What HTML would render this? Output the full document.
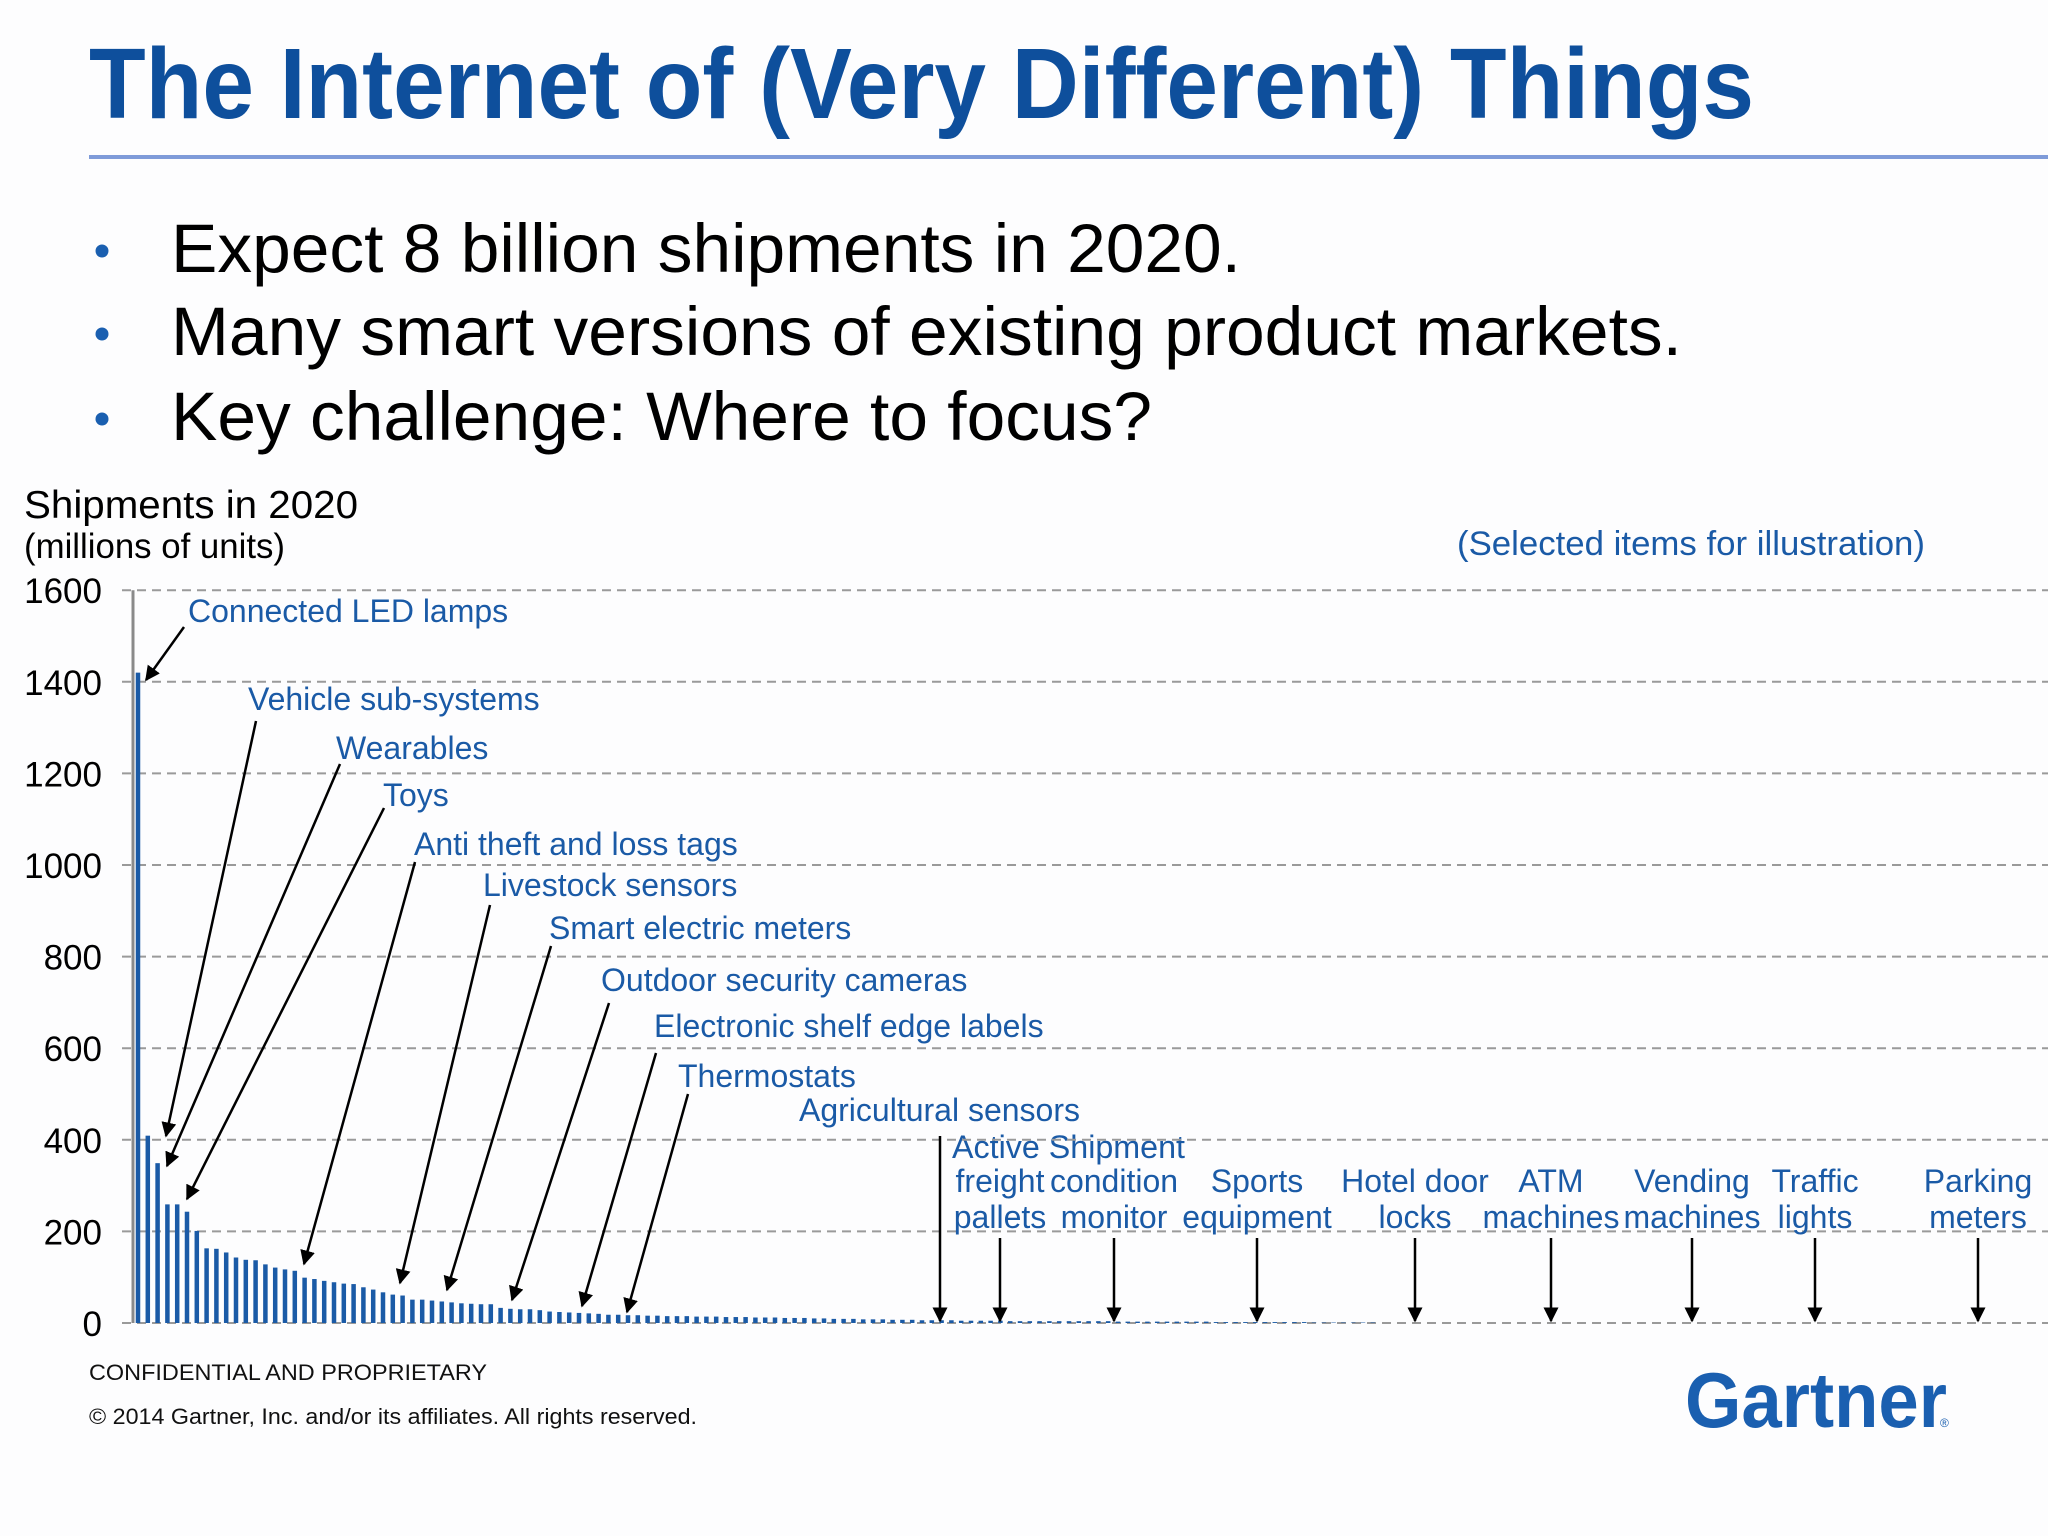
<!DOCTYPE html>
<html><head><meta charset="utf-8"><style>
html,body{margin:0;padding:0;background:#fdfdfe;}
svg{display:block;font-family:"Liberation Sans",Arial,sans-serif;}
</style></head><body>
<svg id="s" width="2048" height="1536" viewBox="0 0 2048 1536" xmlns="http://www.w3.org/2000/svg">
<defs><marker id="ah" viewBox="0 0 10 10" refX="9" refY="5" markerWidth="6" markerHeight="6" orient="auto"><path d="M0,0 L10,5 L0,10 z" fill="#000"/></marker></defs>
<rect width="2048" height="1536" fill="#fdfdfe"/>
<text x="89" y="118" font-size="100" font-weight="bold" fill="#0e4f9c" textLength="1665" lengthAdjust="spacingAndGlyphs">The Internet of (Very Different) Things</text>
<rect x="89" y="155" width="1959" height="4" fill="#7f9bd9"/>
<g font-size="69" fill="#000">
<circle cx="102" cy="251" r="6.5" fill="#1a5fb0"/>
<text x="171" y="272" textLength="1070" lengthAdjust="spacingAndGlyphs">Expect 8 billion shipments in 2020.</text>
<circle cx="102" cy="334" r="6.5" fill="#1a5fb0"/>
<text x="171" y="355" textLength="1511" lengthAdjust="spacingAndGlyphs">Many smart versions of existing product markets.</text>
<circle cx="102" cy="419" r="6.5" fill="#1a5fb0"/>
<text x="171" y="440" textLength="981" lengthAdjust="spacingAndGlyphs">Key challenge: Where to focus?</text>
</g>
<text x="24" y="518" font-size="39" textLength="334" lengthAdjust="spacingAndGlyphs">Shipments in 2020</text>
<text x="24" y="558" font-size="35" textLength="261" lengthAdjust="spacingAndGlyphs">(millions of units)</text>
<text x="1457" y="555" font-size="34" fill="#1a5aa6" textLength="468" lengthAdjust="spacingAndGlyphs">(Selected items for illustration)</text>
<text x="952" y="1158" font-size="32" fill="#1a5aa6" textLength="233" lengthAdjust="spacingAndGlyphs">Active Shipment</text>
<g id="chart"></g>
<text x="89" y="1380" font-size="22" fill="#111" textLength="398" lengthAdjust="spacingAndGlyphs">CONFIDENTIAL AND PROPRIETARY</text>
<text x="89" y="1424" font-size="22" fill="#111" textLength="608" lengthAdjust="spacingAndGlyphs">© 2014 Gartner, Inc. and/or its affiliates. All rights reserved.</text>
<text x="1685" y="1427" font-size="78" font-weight="bold" fill="#1a5fb0" textLength="262" lengthAdjust="spacingAndGlyphs">Gartner</text>
<text x="1940" y="1427" font-size="12" fill="#1a5fb0">®</text>
</svg>
<script>
const ticks=[0,200,400,600,800,1000,1200,1400,1600];
const values=[1420,409,349,259,259,243,201,163,162,154,143,138,137,128,121,117,114,99,96,92,89,86,85,78,73,67,62,60,51,51,49,47,45,43,42,41,41,33,31,30,30,28,25,24,23,22,21,20,
18,18,17,17,16,16,15,15,15,14,14,14,13,13,13,12,12,12,11,11,11,10,
10,9,9,9,8,8,8,7,7,7,6,6,6,6,5,5,5,5,5,4,
4,4,4,4,4,4,4,4,4,4,3,3,3,3,3,3,3,3,3,3,2,2,2,2,2,2,2,2,2,2,1,1,1,1,1,1,1];
const labels=[
["Connected LED lamps",188,622,184,627,146,680],
["Vehicle sub-systems",248,710,256,721,166,1136],
["Wearables",336,759,340,764,167,1166],
["Toys",383,806,384,808,187,1199],
["Anti theft and loss tags",414,855,415,862,304,1264],
["Livestock sensors",483,896,490,905,400,1283],
["Smart electric meters",549,939,551,946,447,1290],
["Outdoor security cameras",601,991,609,1003,512,1300],
["Electronic shelf edge labels",654,1037,656,1053,582,1306],
["Thermostats",678,1087,688,1094,627,1312],
["Agricultural sensors",799,1121,940,1136,940,1321]];
const cats=[["freight","pallets",1000],["condition","monitor",1114],["Sports","equipment",1257],["Hotel door","locks",1415],["ATM","machines",1551],["Vending","machines",1692],["Traffic","lights",1815],["Parking","meters",1978]];
const NS="http://www.w3.org/2000/svg";
const g=document.getElementById('chart');
const y0=1323,pxPer=91.6/200,x0=138,step=9.8;
function yS(v){return y0-v*pxPer;}
function xS(i){return x0+i*step;}
function mk(t,a,p){const e=document.createElementNS(NS,t);for(const k in a)e.setAttribute(k,a[k]);(p||g).appendChild(e);return e;}
ticks.forEach(t=>{
 const l=mk('line',{x1:122,x2:2048,y1:yS(t),y2:yS(t),stroke:'#9a9a9a','stroke-width':2,'stroke-dasharray':'9 6'});
 
 
 const tx=mk('text',{x:102,y:yS(t)+13,'font-size':35,'text-anchor':'end',fill:'#000'});
 tx.textContent=t;
 
 
});
const ax=mk('line',{x1:133,x2:133,y1:yS(1600),y2:y0,stroke:'#8a8a8a','stroke-width':3});


values.forEach((v,i)=>{
 const r=mk('rect',{x:xS(i)-2.25,y:yS(v),width:4.5,height:v*pxPer,fill:'#1a5aa6'});
 
 
});
labels.forEach(L=>{
 const t=mk('text',{x:L[1],y:L[2],'font-size':32,fill:'#1a5aa6'});
 t.textContent=L[0];
 
 
 const a=mk('line',{x1:L[3],y1:L[4],x2:L[5],y2:L[6],stroke:'#000','stroke-width':2.5,'marker-end':'url(#ah)'});
 
 
});
cats.forEach(c=>{
 const ys=[1192,1228];
 [c[0],c[1]].forEach((s,k)=>{
  const t=mk('text',{x:c[2],y:ys[k],'font-size':32,fill:'#1a5aa6','text-anchor':'middle'});
  t.textContent=s;
  
  
 });
 const a=mk('line',{x1:c[2],y1:1238,x2:c[2],y2:1321,stroke:'#000','stroke-width':2.5,'marker-end':'url(#ah)'});
 
 
});
</script>
</body></html>
